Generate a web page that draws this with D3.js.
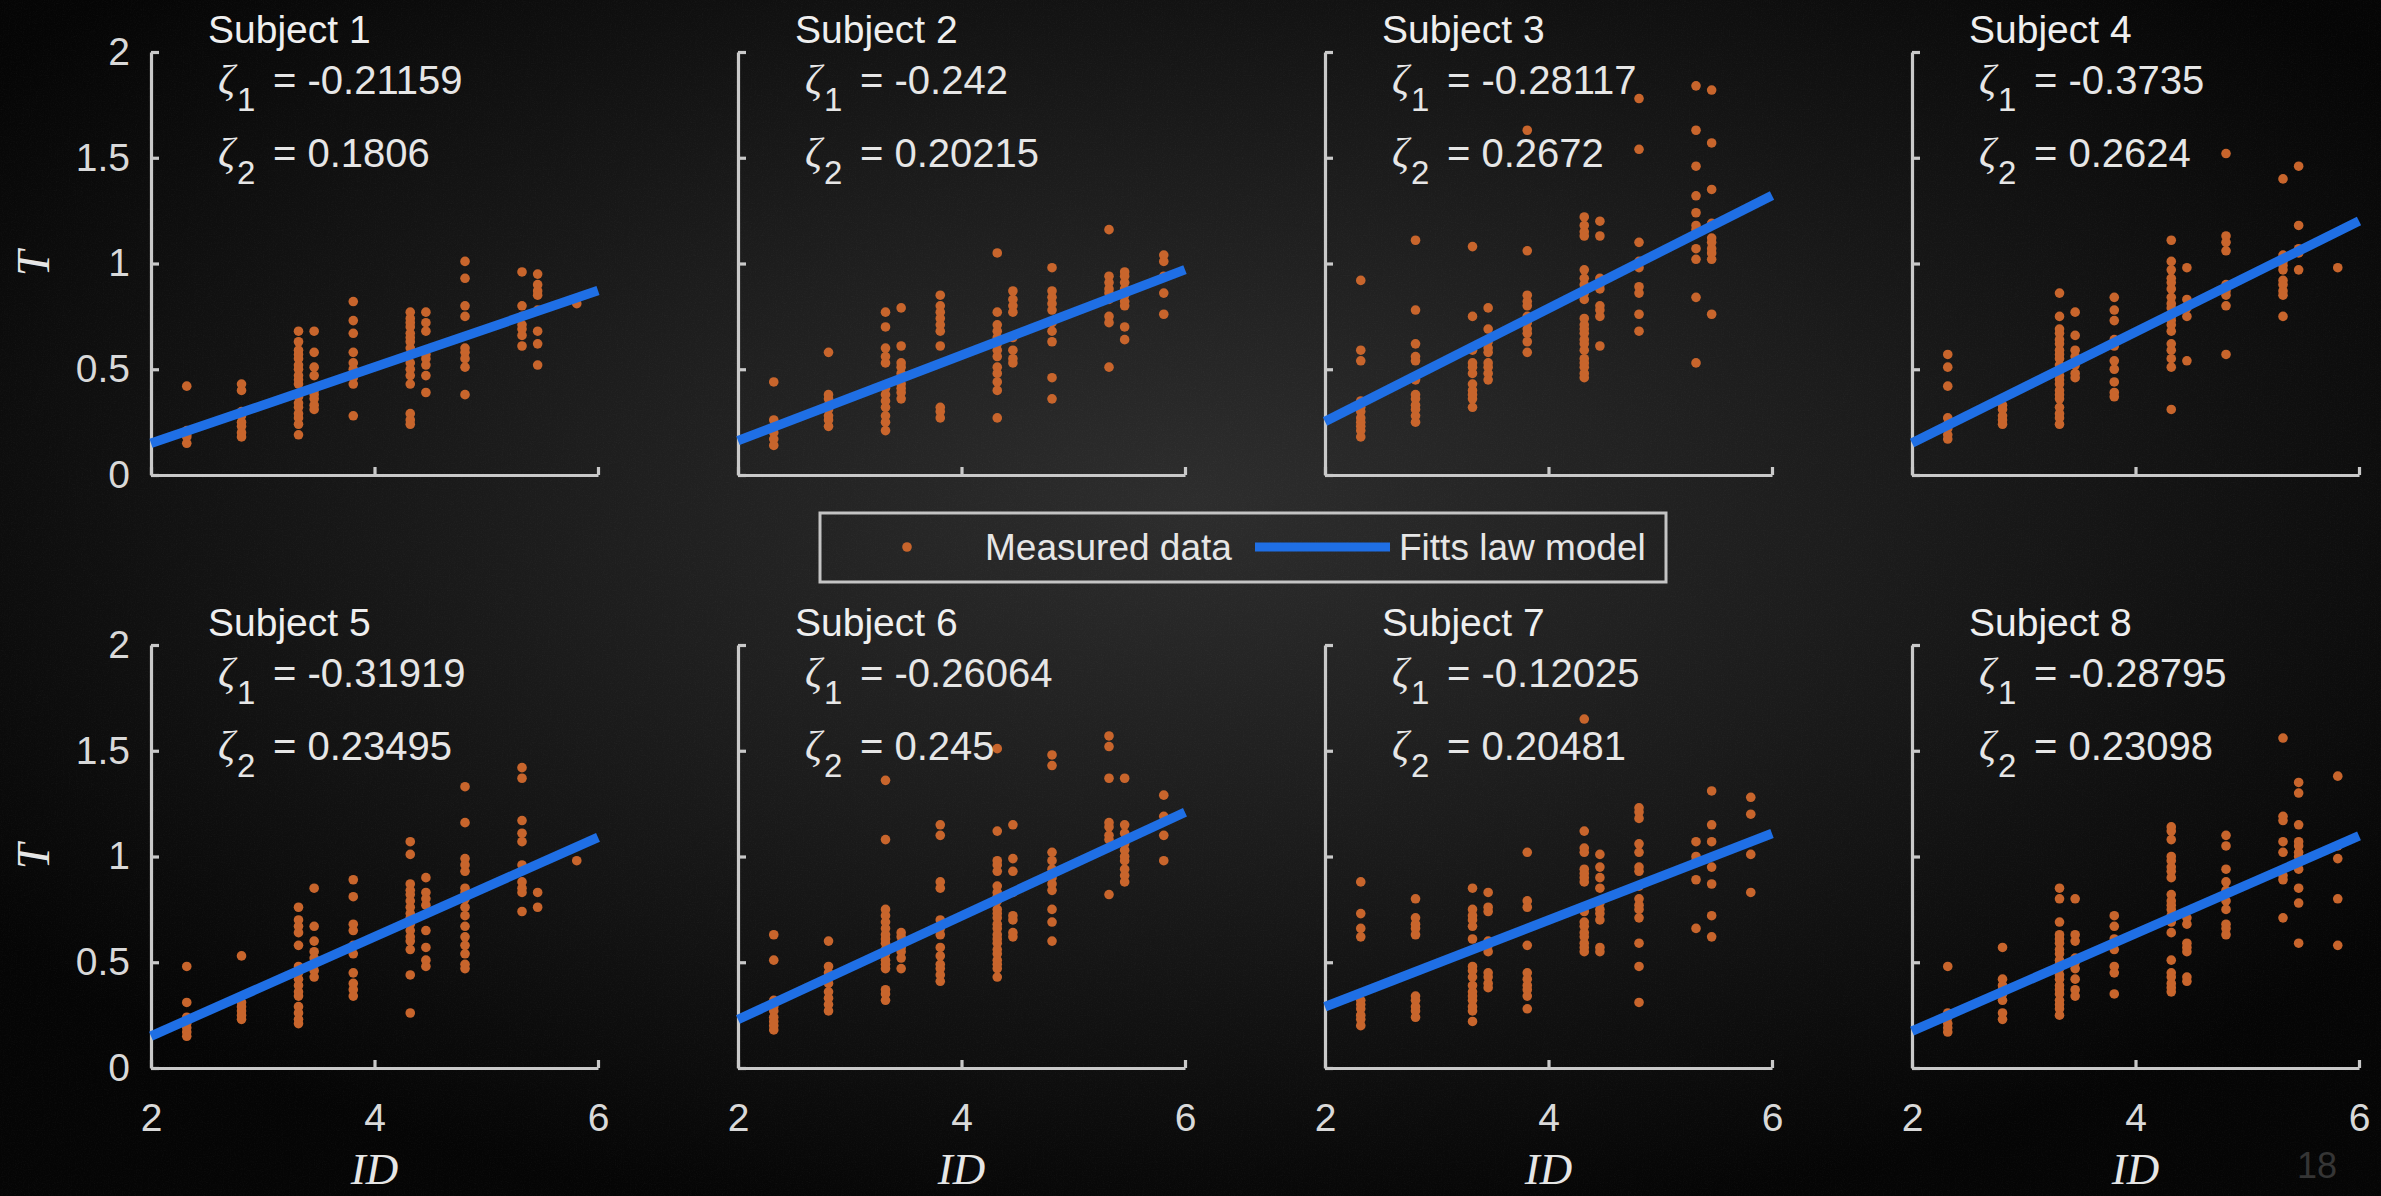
<!DOCTYPE html>
<html>
<head>
<meta charset="utf-8">
<script src="https://cdn.jsdelivr.net/npm/d3@7"></script>
<style>
  html, body { margin: 0; padding: 0; background: #0a0a0a; overflow: hidden; }
  svg { display: block; }
</style>
</head>
<body>
<script>
// ---------------- DATA ----------------
const subjects = ["Subject 1", "Subject 2", "Subject 3", "Subject 4", "Subject 5", "Subject 6", "Subject 7", "Subject 8"];
const zeta1 = [-0.21159, -0.242, -0.28117, -0.3735, -0.31919, -0.26064, -0.12025, -0.28795];
const zeta2 = [0.1806, 0.20215, 0.2672, 0.2624, 0.23495, 0.245, 0.20481, 0.23098];
const zeta1Labels = ["-0.21159", "-0.242", "-0.28117", "-0.3735", "-0.31919", "-0.26064", "-0.12025", "-0.28795"];
const zeta2Labels = ["0.1806", "0.20215", "0.2672", "0.2624", "0.23495", "0.245", "0.20481", "0.23098"];

const idLevels = [2.32, 2.81, 3.32, 3.46, 3.81, 4.32, 4.46, 4.81, 5.32, 5.46, 5.81];

const yTicks = [0, 0.5, 1, 1.5, 2];
const yTickLabels = ["0", "0.5", "1", "1.5", "2"];
const xTicks = [2, 4, 6];
const xTickLabels = ["2", "4", "6"];
const modelRange = [2, 6];
const legendLabels = ["Measured data", "Fitts law model"];
const pageNumber = "18";

// measured T per ID level (one array per ID column)
const subject1 = [
  [0.42, 0.21, 0.19, 0.18, 0.15],
  [0.43, 0.40, 0.30, 0.28, 0.25, 0.23, 0.20, 0.18],
  [0.68, 0.63, 0.59, 0.57, 0.55, 0.52, 0.50, 0.47, 0.45, 0.43, 0.37, 0.34, 0.32, 0.29, 0.27, 0.24, 0.19],
  [0.68, 0.58, 0.51, 0.47, 0.40, 0.38, 0.36, 0.33, 0.31],
  [0.82, 0.73, 0.67, 0.58, 0.53, 0.50, 0.46, 0.43, 0.28],
  [0.77, 0.74, 0.72, 0.70, 0.67, 0.65, 0.63, 0.60, 0.57, 0.53, 0.50, 0.47, 0.43, 0.29, 0.26, 0.24],
  [0.77, 0.72, 0.68, 0.59, 0.57, 0.55, 0.52, 0.47, 0.39],
  [1.01, 0.93, 0.80, 0.75, 0.60, 0.58, 0.55, 0.51, 0.38],
  [0.96, 0.80, 0.75, 0.71, 0.69, 0.66, 0.61],
  [0.95, 0.90, 0.87, 0.85, 0.78, 0.68, 0.62, 0.52],
  [0.81]
];
const subject2 = [
  [0.44, 0.26, 0.22, 0.20, 0.17, 0.14],
  [0.58, 0.38, 0.36, 0.33, 0.31, 0.28, 0.26, 0.23],
  [0.77, 0.70, 0.60, 0.56, 0.53, 0.41, 0.38, 0.35, 0.32, 0.28, 0.25, 0.21],
  [0.79, 0.61, 0.53, 0.51, 0.48, 0.46, 0.43, 0.41, 0.39, 0.36],
  [0.85, 0.80, 0.77, 0.74, 0.71, 0.68, 0.61, 0.32, 0.30, 0.27],
  [1.05, 0.77, 0.71, 0.68, 0.65, 0.62, 0.59, 0.56, 0.51, 0.48, 0.44, 0.40, 0.27],
  [0.87, 0.83, 0.80, 0.77, 0.65, 0.59, 0.55, 0.53],
  [0.98, 0.87, 0.84, 0.81, 0.78, 0.72, 0.68, 0.63, 0.46, 0.36],
  [1.16, 0.94, 0.91, 0.88, 0.86, 0.83, 0.75, 0.72, 0.51],
  [0.96, 0.94, 0.91, 0.88, 0.85, 0.82, 0.80, 0.70, 0.64],
  [1.04, 1.01, 0.94, 0.86, 0.76]
];
const subject3 = [
  [0.92, 0.59, 0.54, 0.35, 0.32, 0.30, 0.27, 0.25, 0.23, 0.21, 0.18],
  [1.11, 0.78, 0.62, 0.56, 0.54, 0.45, 0.38, 0.36, 0.33, 0.31, 0.28, 0.25],
  [1.08, 0.75, 0.59, 0.53, 0.51, 0.48, 0.43, 0.40, 0.38, 0.36, 0.32],
  [0.79, 0.69, 0.63, 0.60, 0.58, 0.53, 0.51, 0.48, 0.45],
  [1.63, 1.06, 0.85, 0.82, 0.80, 0.75, 0.72, 0.69, 0.67, 0.63, 0.58],
  [1.22, 1.18, 1.15, 1.13, 0.97, 0.93, 0.90, 0.86, 0.83, 0.74, 0.71, 0.69, 0.67, 0.64, 0.62, 0.59, 0.55, 0.53, 0.51, 0.48, 0.46],
  [1.20, 1.13, 0.93, 0.90, 0.88, 0.80, 0.78, 0.75, 0.61],
  [1.78, 1.54, 1.10, 1.01, 0.98, 0.89, 0.86, 0.76, 0.68],
  [1.84, 1.63, 1.46, 1.32, 1.24, 1.18, 1.16, 1.07, 1.02, 0.84, 0.53],
  [1.82, 1.57, 1.35, 1.19, 1.12, 1.10, 1.07, 1.05, 1.02, 0.76],
  []
];
const subject4 = [
  [0.57, 0.51, 0.42, 0.27, 0.24, 0.22, 0.19, 0.17],
  [0.33, 0.31, 0.28, 0.26, 0.24],
  [0.86, 0.75, 0.69, 0.67, 0.64, 0.62, 0.59, 0.57, 0.55, 0.52, 0.50, 0.47, 0.45, 0.43, 0.40, 0.38, 0.36, 0.32, 0.29, 0.27, 0.24],
  [0.77, 0.66, 0.59, 0.56, 0.54, 0.52, 0.48, 0.46],
  [0.84, 0.78, 0.73, 0.64, 0.61, 0.54, 0.50, 0.44, 0.39, 0.37],
  [1.11, 1.01, 0.97, 0.93, 0.91, 0.88, 0.84, 0.81, 0.79, 0.75, 0.73, 0.71, 0.68, 0.62, 0.59, 0.55, 0.51, 0.31],
  [0.98, 0.83, 0.79, 0.75, 0.54],
  [1.52, 1.13, 1.10, 1.06, 0.90, 0.87, 0.85, 0.80, 0.57],
  [1.40, 1.04, 1.01, 0.99, 0.97, 0.92, 0.90, 0.87, 0.85, 0.75],
  [1.46, 1.18, 1.07, 1.05, 0.97],
  [0.98]
];
const subject5 = [
  [0.48, 0.31, 0.24, 0.23, 0.21, 0.19, 0.17, 0.15],
  [0.53, 0.31, 0.29, 0.27, 0.25, 0.23],
  [0.76, 0.70, 0.67, 0.64, 0.58, 0.48, 0.45, 0.42, 0.39, 0.36, 0.34, 0.29, 0.26, 0.23, 0.21],
  [0.85, 0.67, 0.60, 0.55, 0.52, 0.49, 0.46, 0.43],
  [0.89, 0.81, 0.68, 0.65, 0.58, 0.54, 0.45, 0.40, 0.37, 0.34],
  [1.07, 1.01, 0.87, 0.84, 0.82, 0.79, 0.76, 0.73, 0.71, 0.68, 0.65, 0.62, 0.60, 0.56, 0.44, 0.26],
  [0.90, 0.83, 0.80, 0.77, 0.65, 0.57, 0.51, 0.48],
  [1.33, 1.16, 0.99, 0.96, 0.93, 0.85, 0.83, 0.80, 0.76, 0.72, 0.67, 0.62, 0.58, 0.54, 0.49, 0.47],
  [1.42, 1.37, 1.17, 1.11, 1.07, 0.96, 0.88, 0.85, 0.83, 0.74],
  [0.83, 0.76],
  [0.98]
];
const subject6 = [
  [0.63, 0.51, 0.32, 0.29, 0.27, 0.24, 0.22, 0.20, 0.18],
  [0.60, 0.48, 0.45, 0.43, 0.40, 0.36, 0.33, 0.30, 0.27],
  [1.36, 1.08, 0.75, 0.72, 0.69, 0.66, 0.63, 0.61, 0.59, 0.56, 0.54, 0.51, 0.49, 0.47, 0.37, 0.35, 0.32],
  [0.64, 0.62, 0.59, 0.57, 0.55, 0.52, 0.47],
  [1.15, 1.10, 0.88, 0.85, 0.70, 0.66, 0.63, 0.57, 0.53, 0.49, 0.47, 0.44, 0.41],
  [1.51, 1.12, 0.98, 0.96, 0.93, 0.86, 0.83, 0.81, 0.79, 0.75, 0.73, 0.71, 0.68, 0.66, 0.63, 0.61, 0.59, 0.56, 0.54, 0.51, 0.49, 0.47, 0.43],
  [1.15, 0.99, 0.93, 0.83, 0.72, 0.70, 0.64, 0.62],
  [1.48, 1.43, 1.02, 0.98, 0.94, 0.90, 0.87, 0.84, 0.75, 0.69, 0.60],
  [1.57, 1.52, 1.37, 1.16, 1.14, 1.10, 1.08, 0.82],
  [1.37, 1.15, 1.11, 1.06, 1.03, 1.00, 0.98, 0.94, 0.91, 0.88],
  [1.29, 1.19, 1.10, 0.98]
];
const subject7 = [
  [0.88, 0.73, 0.66, 0.62, 0.32, 0.30, 0.28, 0.25, 0.23, 0.20],
  [0.80, 0.71, 0.68, 0.66, 0.63, 0.34, 0.32, 0.29, 0.27, 0.24],
  [0.85, 0.75, 0.72, 0.70, 0.67, 0.61, 0.48, 0.46, 0.43, 0.39, 0.36, 0.34, 0.32, 0.29, 0.27, 0.22],
  [0.83, 0.76, 0.74, 0.60, 0.58, 0.55, 0.45, 0.43, 0.40, 0.38],
  [1.02, 0.79, 0.76, 0.58, 0.45, 0.42, 0.39, 0.37, 0.34, 0.28],
  [1.65, 1.12, 1.04, 1.02, 0.94, 0.92, 0.90, 0.88, 0.76, 0.74, 0.69, 0.67, 0.64, 0.62, 0.59, 0.57, 0.55],
  [1.01, 0.95, 0.90, 0.85, 0.78, 0.75, 0.73, 0.70, 0.57, 0.55],
  [1.23, 1.21, 1.18, 1.06, 1.02, 0.95, 0.93, 0.86, 0.80, 0.77, 0.75, 0.71, 0.59, 0.48, 0.31],
  [1.07, 1.00, 0.98, 0.89, 0.66],
  [1.31, 1.15, 1.07, 0.95, 0.87, 0.72, 0.62],
  [1.28, 1.20, 1.01, 0.83]
];
const subject8 = [
  [0.48, 0.26, 0.24, 0.21, 0.19, 0.17],
  [0.57, 0.42, 0.39, 0.37, 0.35, 0.32, 0.26, 0.23],
  [0.85, 0.80, 0.69, 0.63, 0.61, 0.59, 0.56, 0.54, 0.51, 0.49, 0.47, 0.44, 0.42, 0.39, 0.37, 0.35, 0.32, 0.30, 0.28, 0.25],
  [0.80, 0.63, 0.60, 0.52, 0.50, 0.47, 0.42, 0.37, 0.34],
  [0.72, 0.67, 0.61, 0.59, 0.56, 0.48, 0.45, 0.35],
  [1.14, 1.12, 1.08, 1.00, 0.98, 0.95, 0.93, 0.90, 0.82, 0.79, 0.77, 0.75, 0.72, 0.69, 0.64, 0.51, 0.45, 0.43, 0.40, 0.38, 0.36],
  [0.71, 0.68, 0.59, 0.57, 0.55, 0.43, 0.41],
  [1.10, 1.05, 0.94, 0.88, 0.84, 0.79, 0.75, 0.68, 0.66, 0.63],
  [1.56, 1.19, 1.17, 1.07, 1.02, 0.91, 0.89, 0.71],
  [1.35, 1.30, 1.15, 1.07, 1.05, 1.02, 1.00, 0.97, 0.94, 0.85, 0.78, 0.59],
  [1.38, 1.05, 0.99, 0.80, 0.58]
];
const measured = [subject1, subject2, subject3, subject4, subject5, subject6, subject7, subject8];

// ---------------- LAYOUT / STYLE ----------------
const W = 2381, H = 1196;
const panelLefts = [151, 738, 1325, 1912];
const panelTops = [52, 645];
const panelW = 447, panelH = 423;
const axisColor = "#c9c9c9";
const textColor = "#e6e6e6";
const dotColor = "#c8652c";
const lineColor = "#1f6fe5";
const sans = "'Liberation Sans', Arial, Helvetica, sans-serif";
const serif = "'Liberation Serif', 'Times New Roman', serif";

const svg = d3.select("body").append("svg")
  .attr("width", W).attr("height", H)
  .attr("viewBox", `0 0 ${W} ${H}`);

const defs = svg.append("defs");
const grad = defs.append("radialGradient").attr("id", "bg")
  .attr("cx", "50%").attr("cy", "42%").attr("r", "62%")
  .attr("fx", "50%").attr("fy", "42%");
grad.append("stop").attr("offset", "0%").attr("stop-color", "#2d2d2d");
grad.append("stop").attr("offset", "45%").attr("stop-color", "#1c1c1c");
grad.append("stop").attr("offset", "100%").attr("stop-color", "#050505");

const noise = defs.append("filter").attr("id", "noise").attr("x", 0).attr("y", 0).attr("width", "100%").attr("height", "100%");
noise.append("feTurbulence").attr("type", "fractalNoise").attr("baseFrequency", 0.85).attr("numOctaves", 2).attr("seed", 3).attr("result", "t");
noise.append("feColorMatrix").attr("in", "t").attr("type", "matrix")
  .attr("values", "0 0 0 0 1  0 0 0 0 1  0 0 0 0 1  0.33 0.33 0.33 0 -0.45");

svg.append("rect").attr("width", W).attr("height", H).attr("fill", "url(#bg)");
svg.append("rect").attr("width", W).attr("height", H).attr("filter", "url(#noise)").attr("opacity", 0.10);

const x = d3.scaleLinear().domain([2, 6]).range([0, panelW]);
const y = d3.scaleLinear().domain([0, 2]).range([panelH, 0]);

subjects.forEach((name, i) => {
  const col = i % 4, row = Math.floor(i / 4);
  const left = panelLefts[col], top = panelTops[row];
  const g = svg.append("g").attr("transform", `translate(${left},${top})`);

  // axes
  const yAxis = d3.axisLeft(y).tickValues(yTicks)
    .tickSizeInner(-8).tickSizeOuter(0).tickPadding(21)
    .tickFormat((d, k) => col === 0 ? yTickLabels[k] : "");
  const xAxis = d3.axisBottom(x).tickValues(xTicks)
    .tickSizeInner(-8).tickSizeOuter(0).tickPadding(35)
    .tickFormat((d, k) => row === 1 ? xTickLabels[k] : "");

  const ga = g.append("g").call(yAxis);
  const gb = g.append("g").attr("transform", `translate(0,${panelH})`).call(xAxis);
  [ga, gb].forEach(a => {
    a.select(".domain").attr("stroke", axisColor).attr("stroke-width", 3.2);
    a.selectAll(".tick line").attr("stroke", axisColor).attr("stroke-width", 3.2);
    a.selectAll(".tick text").attr("fill", "#d9d9d9")
      .style("font-family", sans).style("font-size", "39px");
  });

  // measured points
  const pts = [];
  measured[i].forEach((vals, j) => vals.forEach(t => pts.push({ id: idLevels[j], t })));
  g.append("g").selectAll("circle").data(pts).join("circle")
    .attr("cx", d => x(d.id)).attr("cy", d => y(d.t))
    .attr("r", 4.8).attr("fill", dotColor);

  // model line T = zeta1 + zeta2 * ID over the plotted ID range
  const model = modelRange.map(id => ({ id, t: zeta1[i] + zeta2[i] * id }));
  g.append("path").datum(model)
    .attr("d", d3.line().x(d => x(d.id)).y(d => y(d.t)))
    .attr("stroke", lineColor).attr("stroke-width", 9.5).attr("fill", "none");

  // title
  g.append("text").attr("x", 57).attr("y", -9).text(name)
    .attr("fill", "#efefef").style("font-family", sans).style("font-size", "39px");

  // zeta annotations
  [[zeta1Labels[i], "1", 42], [zeta2Labels[i], "2", 115]].forEach(([val, sub, by]) => {
    g.append("text").attr("x", 67).attr("y", by).text("ζ")
      .attr("fill", textColor).style("font-family", serif).style("font-style", "italic").style("font-size", "42px");
    g.append("text").attr("x", 86).attr("y", by + 17).text(sub)
      .attr("fill", textColor).style("font-family", sans).style("font-size", "33px");
    g.append("text").attr("x", 122).attr("y", by).text("= " + val)
      .attr("fill", textColor).style("font-family", sans).style("font-size", "40px");
  });

  // axis titles
  if (col === 0) {
    g.append("text").attr("transform", `translate(${33 - left},${panelH / 2}) rotate(-90)`)
      .attr("text-anchor", "middle").attr("dy", "0.35em").text("T")
      .attr("fill", textColor).style("font-family", serif).style("font-style", "italic").style("font-size", "46px");
  }
  if (row === 1) {
    g.append("text").attr("x", panelW / 2).attr("y", 1184 - top).attr("text-anchor", "middle").text("ID")
      .attr("fill", textColor).style("font-family", serif).style("font-style", "italic").style("font-size", "45px");
  }
});

// legend
const lg = svg.append("g");
lg.append("rect").attr("x", 820).attr("y", 513).attr("width", 846).attr("height", 69)
  .attr("fill", "none").attr("stroke", "#c4c4c4").attr("stroke-width", 3);
lg.append("circle").attr("cx", 907).attr("cy", 547).attr("r", 4.8).attr("fill", dotColor);
lg.append("text").attr("x", 985).attr("y", 560).text(legendLabels[0])
  .attr("fill", textColor).style("font-family", sans).style("font-size", "37px");
lg.append("line").attr("x1", 1255).attr("x2", 1390).attr("y1", 547).attr("y2", 547)
  .attr("stroke", lineColor).attr("stroke-width", 9);
lg.append("text").attr("x", 1399).attr("y", 560).text(legendLabels[1])
  .attr("fill", textColor).style("font-family", sans).style("font-size", "37px");

// page number
svg.append("text").attr("x", 2317).attr("y", 1178).attr("text-anchor", "middle").text(pageNumber)
  .attr("fill", "#353535").style("font-family", sans).style("font-size", "36px");
</script>
</body>
</html>
